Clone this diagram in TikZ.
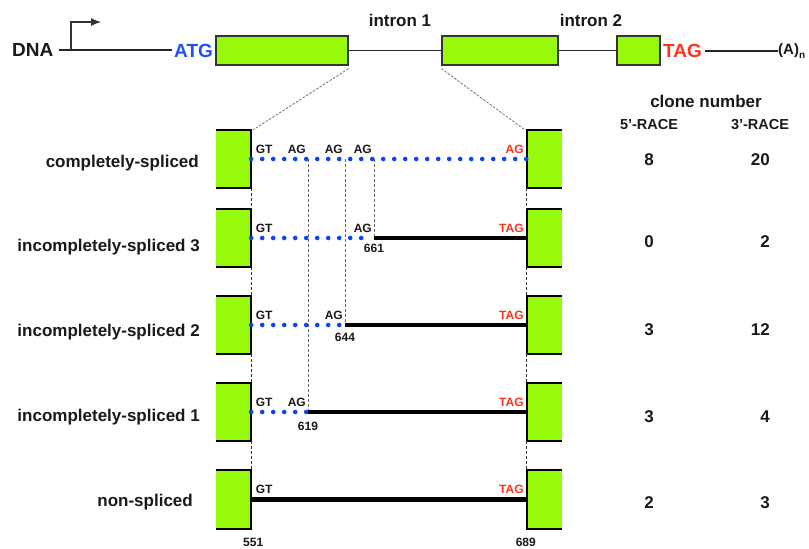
\documentclass[tikz,border=0pt]{standalone}
\usepackage{fontspec}
\setmainfont{Liberation Sans}
\usetikzlibrary{arrows.meta, positioning, calc}

\definecolor{exongreen}{RGB}{150,250,10}
\definecolor{atgblue}{RGB}{30,80,245}
\definecolor{tagred}{RGB}{255,50,30}
\definecolor{dotblue}{RGB}{10,70,255}
\definecolor{txt}{RGB}{25,25,25}

\begin{document}
\begin{tikzpicture}[x=1pt, y=-1pt, >=latex,
    every node/.style={text=txt, inner sep=0pt},
    big/.style={font=\fontsize{19}{21}\selectfont\bfseries},
    mid/.style={font=\fontsize{17}{19}\selectfont\bfseries},
    small/.style={font=\fontsize{14.5}{16}\selectfont\bfseries},
    site/.style={font=\fontsize{12}{13}\selectfont\bfseries},
    exon/.style={draw=black!80, fill=exongreen, line width=1.2pt, minimum height=29pt},
    stub/.style={fill=exongreen, minimum width=35pt, minimum height=58pt},
    rim/.style={black, line width=2pt},
    gene/.style={black!85, line width=1.3pt},
    promoter/.style={-{Latex[length=10pt,width=8pt]}, black!80, line width=1.1pt},
    zoomline/.style={black!55, line width=0.8pt, dash pattern=on 2.5pt off 1.5pt},
    guide/.style={black!60, line width=0.7pt, dash pattern=on 3pt off 2pt},
    link/.style={black!80, line width=0.7pt, dash pattern=on 3pt off 2pt},
    spliced/.style={dotblue, line width=4.6pt, line cap=round, dash pattern=on 0pt off 11pt},
    retained/.style={black, line width=4.5pt}]
    \useasboundingbox (0,0) rectangle (809,549);

    % gene model
    \node[big, anchor=west] (dna) at (12,50) {DNA};
    \node[big, anchor=west, text=atgblue] (atg) at (174,51) {ATG};
    \node[exon, minimum width=132pt] (ex1) at (282,50.5) {};
    \node[exon, minimum width=116pt] (ex2) at (500,50.5) {};
    \node[exon, minimum width=43pt] (ex3) at (638.5,50.5) {};
    \node[big, anchor=west, text=tagred] (tag) at (663,51) {TAG};
    \node[anchor=west] (polya) at (778,51) {\fontsize{15}{16}\selectfont\bfseries (A)\raisebox{-0.5ex}{\fontsize{10}{11}\selectfont n}};
    \draw[gene] ([xshift=5pt]dna.east) -- ([xshift=-2pt]atg.west |- dna.east);
    \draw[gene] (ex1) -- (ex2);
    \draw[gene] (ex2) -- (ex3);
    \draw[gene] ([xshift=3pt]tag.east) -- (polya.west |- tag.east);
    \coordinate (tss) at (71,50);
    \coordinate (tssend) at (101,22);
    \draw[promoter] (tss) |- (tssend);
    \node[mid] (intron1) at (400,20) {intron 1};
    \node[mid] (intron2) at (591,20) {intron 2};

    % transcripts
    \foreach \n/\y/\stop in {1/159/AG,2/238/TAG,3/325/TAG,4/412/TAG,5/499.5/TAG} {
        \node[stub] (L\n) at (233.5,\y) {};
        \node[stub] (R\n) at (544.5,\y) {};
        \draw[rim] (L\n.north west) -- (L\n.north east) -- (L\n.south east) -- (L\n.south west);
        \draw[rim] (R\n.north east) -- (R\n.north west) -- (R\n.south west) -- (R\n.south east);
        \node[site, anchor=west] (gt\n) at ($(L\n.east)+(4.5,-10)$) {GT};
        \node[site, anchor=east, text=tagred] (stop\n) at ($(R\n.west)+(-3,-10)$) {\stop};
    }
    \foreach \n/\m in {1/2,2/3,3/4,4/5} {
        \draw[link] (L\n.south east) -- (L\m.north east);
        \draw[link] (R\n.south west) -- (R\m.north west);
    }
    \draw[zoomline] ([yshift=-3pt]ex1.south east) -- ([xshift=2pt]L1.north east);
    \draw[zoomline] ([yshift=-3pt]ex2.south west) -- ([xshift=-2pt]R1.north west);

    % splice sites
    \coordinate (s619) at (308,159);
    \coordinate (s644) at (345,159);
    \coordinate (s661) at (374,159);
    \coordinate (a661) at (s661 |- L2.east);
    \coordinate (a644) at (s644 |- L3.east);
    \coordinate (a619) at (s619 |- L4.east);
    \draw[guide] (s661) -- (a661);
    \draw[guide] (s644) -- (a644);
    \draw[guide] (s619) -- (a619);

    \draw[spliced] (L1.east) -- (R1.west);
    \node[site, anchor=east] (ag619) at ($(s619)+(-2,-10)$) {AG};
    \node[site, anchor=east] (ag644) at ($(s644)+(-2,-10)$) {AG};
    \node[site, anchor=east] (ag661) at ($(s661)+(-2,-10)$) {AG};

    \draw[spliced] (L2.east) -- ([xshift=-9pt]a661);
    \draw[retained] (a661) -- (R2.west);
    \node[site, anchor=east] (ag2) at ($(a661)+(-2,-10)$) {AG};
    \node[site] (p661) at ($(a661)+(0,10)$) {661};

    \draw[spliced] (L3.east) -- (a644);
    \draw[retained] (a644) -- (R3.west);
    \node[site, anchor=east] (ag3) at ($(a644)+(-2,-10)$) {AG};
    \node[site] (p644) at ($(a644)+(0,12)$) {644};

    \draw[spliced] (L4.east) -- (a619);
    \draw[retained] (a619) -- (R4.west);
    \node[site, anchor=east] (ag4) at ($(a619)+(-2,-10)$) {AG};
    \node[site] (p619) at ($(a619)+(0,14)$) {619};

    \draw[retained] (L5.east) -- (R5.west);
    \node[site] (p551) at ($(L5.south east)+(2,14)$) {551};
    \node[site] (p689) at ($(R5.south west)+(-1,14)$) {689};

    % row names
    \node[mid, anchor=east] (lab1) at (199,163) {completely-spliced};
    \node[mid, anchor=east] (lab2) at (200,247) {incompletely-spliced 3};
    \node[mid, anchor=east] (lab3) at (200,332) {incompletely-spliced 2};
    \node[mid, anchor=east] (lab4) at (200,417) {incompletely-spliced 1};
    \node[mid, anchor=east] (lab5) at (193,502) {non-spliced};

    % clone numbers
    \node[mid] (clone) at (706,101) {clone number};
    \node[small] (race5) at (649,125) {5’-RACE};
    \node[small] (race3) at (760,125) {3’-RACE};
    \coordinate (col5) at (649,0);
    \coordinate (col3) at (770,0);
    \foreach \n/\y/\a/\b in {1/160/8/20,2/242/0/2,3/330/3/12,4/417/3/4,5/503/2/3} {
        \node[mid] (five\n) at (col5 |- 0,\y) {\a};
        \node[mid, anchor=east] (three\n) at (col3 |- 0,\y) {\b};
    }
\end{tikzpicture}
\end{document}
